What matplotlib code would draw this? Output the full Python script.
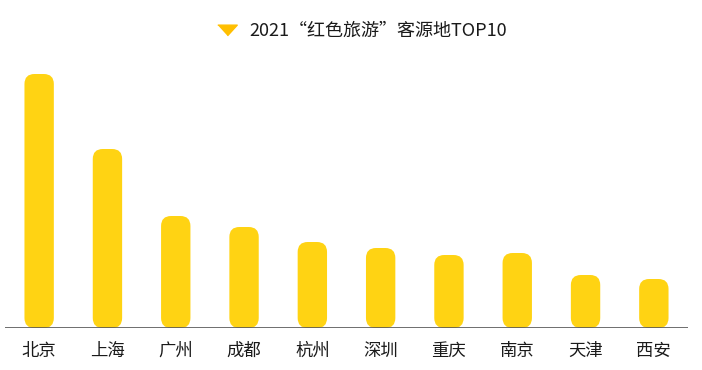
import matplotlib
matplotlib.use('Agg')
import matplotlib.pyplot as plt
from matplotlib.patches import FancyBboxPatch
from matplotlib.lines import Line2D

plt.rcParams['font.family'] = ['Noto Sans CJK SC', 'DejaVu Sans']

# 城市与数值（按图中柱高估读）
cities = ['北京', '上海', '广州', '成都', '杭州', '深圳', '重庆', '南京', '天津', '西安']
values = [25.4, 17.9, 11.2, 10.1, 8.6, 8.0, 7.3, 7.5, 5.3, 4.9]
title = '2021“红色旅游”客源地TOP10'

bar_color = '#FFD313'
mark_color = '#FFBF00'

fig = plt.figure(figsize=(7.02, 3.70), dpi=100)
ax = fig.add_axes([5 / 702, 42 / 370, 683 / 702, 268 / 370])
ax.set_xlim(-0.5, len(cities) - 0.5)
ax.set_ylim(0, 26.8)

# 柱子圆角：按像素比例算 aspect
bbox = ax.get_window_extent()
x_per_px = (len(cities)) / bbox.width
y_per_px = 26.8 / bbox.height
aspect = y_per_px / x_per_px

w = 0.43
r = 10 * x_per_px
for i, v in enumerate(values):
    p = FancyBboxPatch((i - w / 2, 0), w, v,
                       boxstyle='round,pad=0,rounding_size=%f' % r,
                       mutation_aspect=aspect,
                       fc=bar_color, ec='none')
    ax.add_patch(p)

ax.axhline(0, color='#555555', lw=1.2)

ax.set_xticks(range(len(cities)))
ax.set_xticklabels(cities, fontsize=12.5, color='#1a1a1a', fontweight='medium')
ax.tick_params(axis='x', length=0, pad=10)
ax.set_yticks([])
for s in ax.spines.values():
    s.set_visible(False)

tri = [(-1.0, 0.55), (1.0, 0.55), (0.0, -0.55)]
h = Line2D([], [], marker=tri, color=mark_color, ls='', markersize=14)
fig.legend([h], [title], loc='center', bbox_to_anchor=(0.51, 1 - 31 / 370),
           frameon=False, handletextpad=0.2,
           labelcolor='#1a1a1a', prop={'size': 13, 'weight': 'medium'})

fig.savefig('out.png', dpi=100)
